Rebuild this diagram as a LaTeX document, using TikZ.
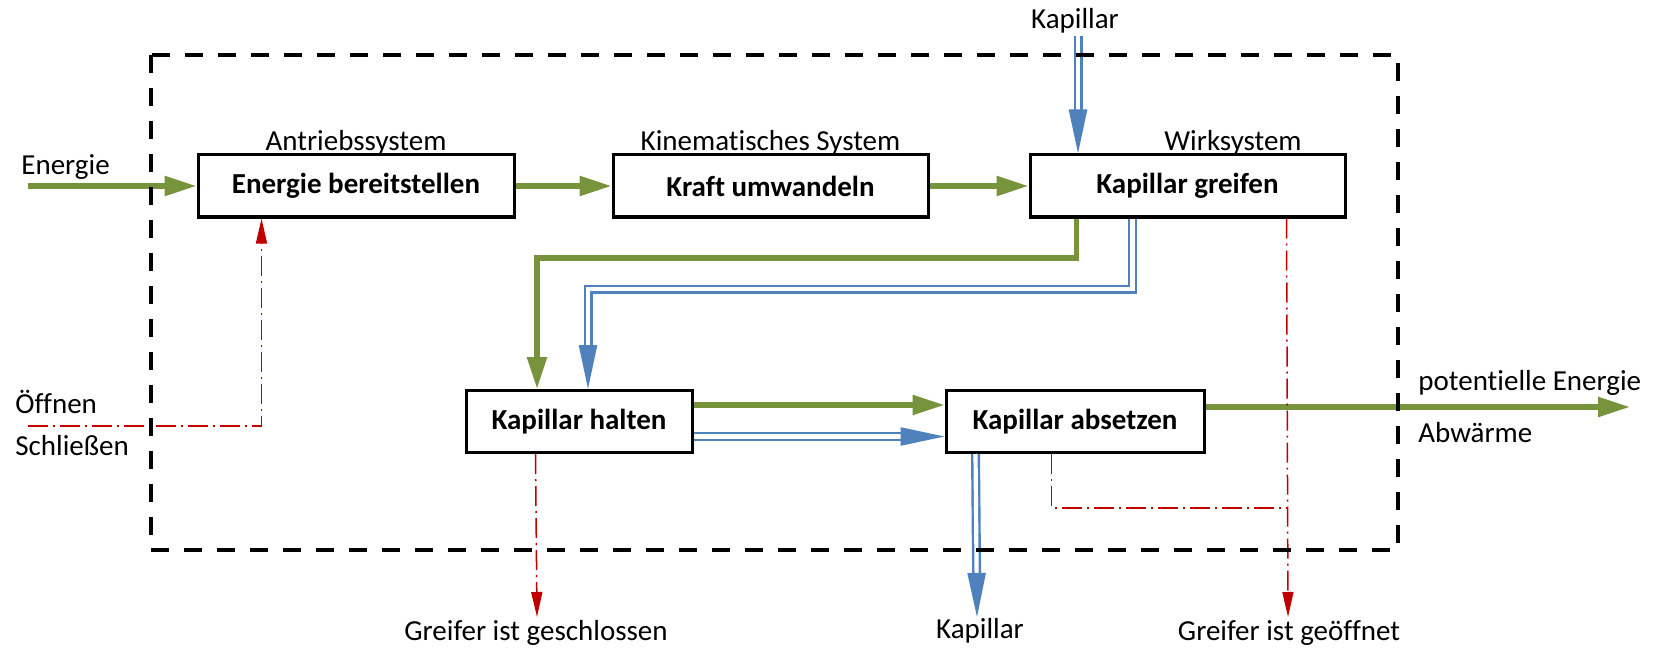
\documentclass[tikz,border=0pt]{standalone}
\usepackage{fontspec}
\setmainfont{Carlito}[Ligatures=NoCommon]
\usetikzlibrary{arrows.meta,calc}
\definecolor{cgreen}{HTML}{77933C}
\definecolor{cblue}{HTML}{4F81BD}
\definecolor{cred}{HTML}{C00000}
\begin{document}
\begin{tikzpicture}[x=0.5pt,y=-0.5pt,
  font=\fontsize{14.5}{17}\selectfont,
  box/.style={draw=black,line width=1.5pt,minimum height=31pt,inner sep=0pt,fill=white,
    font=\fontsize{14.5}{17}\selectfont\bfseries},
  lbl/.style={inner sep=0pt},
  gline/.style={draw=cgreen,line width=2.75pt},
  garrow/.style={gline,-{Triangle[length=16pt,width=9.5pt]}},
  bline/.style={draw=cblue,line width=1.2pt,double=white,double distance=2.1pt},
  barrow/.style={bline,-{Triangle[length=22pt,width=9pt]}},
  rline/.style={draw=cred,line width=0.75pt,dash pattern=on 10pt off 2.5pt on 1pt off 2.5pt},
  rarrow/.style={rline,-{Triangle[length=12.5pt,width=5.5pt]}},
  sysbox/.style={draw=black,line width=2pt,dash pattern=on 9pt off 7.5pt}]
\useasboundingbox (0,0) rectangle (1657,652);

% boxes
\node[box,minimum width=158pt] (b1) at (356,186) {Energie bereitstellen};
\node[box,minimum width=157.5pt] (b2) at (770.5,186) {Kraft umwandeln};
\node[box,minimum width=157.5pt] (b3) at (1187.5,186) {Kapillar greifen};
\node[box,minimum width=113pt] (b4) at (579,421.5) {Kapillar halten};
\node[box,minimum width=129pt] (b5) at (1075,421.5) {Kapillar absetzen};

% headings
\node[lbl,anchor=base] (h1) at (356,151) {Antriebssystem};
\node[lbl,anchor=base] (h2) at (770.5,151) {Kinematisches System};
\node[lbl,anchor=base] (h3) at (1233,151) {Wirksystem};

% outer texts
\node[lbl,anchor=base west] (tE) at (21,175) {Energie};
\node[lbl,anchor=base west] (tO) at (15,413) {Öffnen};
\node[lbl,anchor=base west] (tS) at (15,455) {Schließen};
\node[lbl,anchor=base] (tK1) at (1075,29) {Kapillar};
\node[lbl,anchor=base west] (tP) at (1418,390) {potentielle Energie};
\node[lbl,anchor=base west] (tA) at (1418,442) {Abwärme};
\node[lbl,anchor=base] (tK2) at (980,638) {Kapillar};
\node[lbl,anchor=base] (tG1) at (536,640) {Greifer ist geschlossen};
\node[lbl,anchor=base] (tG2) at (1289,640) {Greifer ist geöffnet};

% free ends and bends
\coordinate (ein) at (28,186);
\coordinate (kin) at (1078,36);
\coordinate (gk) at (537,258);
\coordinate (bk) at (588,289);
\coordinate (gout) at (1630,407);
\coordinate (kout) at (977,617);
\coordinate (oe) at (28,426);
\coordinate (gs) at (537,617);
\coordinate (go) at (1288,617);
\coordinate (rj) at (1288,508);

% green energy flow
\draw[garrow] (ein) -- (b1.west);
\draw[garrow] (b1.east) -- (b2.west);
\draw[garrow] (b2.east) -- (b3.west);
\draw[garrow] ($(b3.south west)+(48,0)$) |- (gk) -- (gk |- b4.north);
\draw[garrow] ($(b4.east)+(0,-16.5)$) -- ($(b5.west)+(0,-16.5)$);
\draw[garrow] ($(b5.east)+(0,-14.5)$) -- (gout);

% blue material flow
\draw[barrow] (kin) -- (kin |- b3.north);
\draw[barrow] ($(b3.south west)+(104,0)$) |- (bk) -- (bk |- b4.north);
\draw[barrow] ($(b4.east)+(0,15)$) -- ($(b5.west)+(0,15)$);
\draw[barrow] ($(b5.south west)+(31,0)$) -- (kout);

% red signal flow
\draw[rarrow] (oe) -| ($(b1.south west)+(65,0)$);
\draw[rarrow] ($(b4.south west)+(71,0)$) -- (gs);
\draw[rarrow] ($(b3.south west)+(258,0)$) -- (go);
\draw[rline] ($(b5.south west)+(107,0)$) |- (rj);

% system border
\draw[sysbox] (151,55) rectangle (1398,550);
\end{tikzpicture}
\end{document}
